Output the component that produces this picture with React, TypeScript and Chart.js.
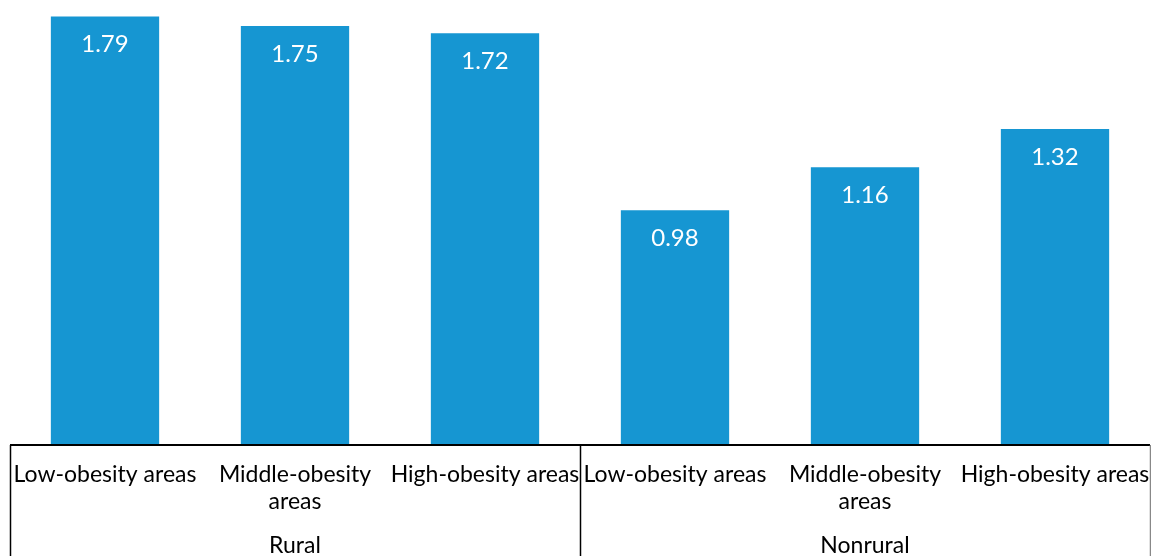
import React, { useEffect, useRef } from "react";
import { Chart, registerables } from "chart.js";

Chart.register(...registerables);

// Category labels (multi-line entries are arrays of lines)
const categories: (string | string[])[] = [
  "Low-obesity areas",
  ["Middle-obesity", "areas"],
  "High-obesity areas",
  "Low-obesity areas",
  ["Middle-obesity", "areas"],
  "High-obesity areas",
];

// Group labels and how many categories each spans
const groups = ["Rural", "Nonrural"];
const groupSizes = [3, 3];

const values = [1.79, 1.75, 1.72, 0.98, 1.16, 1.32];

const BAR_COLOR = "#1696d2";
const FONT = "Lato, 'Open Sans', sans-serif";

// Draws the value inside the top of each bar
const valueLabels = {
  id: "valueLabels",
  afterDatasetsDraw(chart: any) {
    const { ctx } = chart;
    const meta = chart.getDatasetMeta(0);
    ctx.save();
    ctx.fillStyle = "#ffffff";
    ctx.font = `24px ${FONT}`;
    ctx.textAlign = "center";
    ctx.textBaseline = "middle";
    meta.data.forEach((bar: any, i: number) => {
      ctx.fillText(values[i].toFixed(2), bar.x, bar.y + 28);
    });
    ctx.restore();
  },
};

// Draws the boxed category axis with group labels underneath
const groupAxis = {
  id: "groupAxis",
  afterDraw(chart: any) {
    const { ctx, chartArea } = chart;
    const bottom = chart.height;
    const step = (chartArea.right - chartArea.left) / categories.length;
    ctx.save();
    ctx.strokeStyle = "#000000";
    ctx.lineWidth = 2;
    ctx.beginPath();
    ctx.moveTo(chartArea.left, chartArea.bottom);
    ctx.lineTo(chartArea.right, chartArea.bottom);
    ctx.stroke();

    ctx.lineWidth = 1.5;
    let start = 0;
    const edges: number[] = [chartArea.left];
    groupSizes.forEach((n) => {
      start += n;
      edges.push(chartArea.left + start * step);
    });
    edges.forEach((ex, i) => {
      ctx.strokeStyle = i === edges.length - 1 ? "#888888" : "#000000";
      ctx.beginPath();
      ctx.moveTo(Math.round(ex) + 0.5, chartArea.bottom);
      ctx.lineTo(Math.round(ex) + 0.5, bottom);
      ctx.stroke();
    });

    ctx.fillStyle = "#000000";
    ctx.font = `23px ${FONT}`;
    ctx.textAlign = "center";
    ctx.textBaseline = "middle";
    groups.forEach((g, i) => {
      const cx = (edges[i] + edges[i + 1]) / 2;
      ctx.fillText(g, cx, 546);
    });
    ctx.restore();
  },
};

export default function App() {
  const canvasRef = useRef<HTMLCanvasElement | null>(null);

  useEffect(() => {
    if (!canvasRef.current) return;
    const chart = new Chart(canvasRef.current, {
      type: "bar",
      data: {
        labels: categories,
        datasets: [
          {
            data: values,
            backgroundColor: BAR_COLOR,
            barPercentage: 0.57,
            categoryPercentage: 1,
          },
        ],
      },
      options: {
        animation: false,
        responsive: false,
        maintainAspectRatio: false,
        layout: { padding: { left: 10, right: 1, top: 14, bottom: 0 } },
        plugins: {
          legend: { display: false },
          tooltip: { enabled: false },
        },
        scales: {
          x: {
            grid: { display: false },
            border: { display: false },
            ticks: {
              color: "#000000",
              font: { family: FONT, size: 23, lineHeight: 1.18 },
              padding: 8,
              maxRotation: 0,
              autoSkip: false,
            },
            afterFit: (scale: any) => {
              scale.height = 111;
              scale.paddingLeft = 0;
              scale.paddingRight = 0;
            },
          },
          y: {
            display: false,
            min: 0,
            max: 1.8,
          },
        },
      },
      plugins: [valueLabels, groupAxis],
    });
    return () => chart.destroy();
  }, []);

  return (
    <div style={{ position: "fixed", left: 0, top: 0, width: 1151, height: 556, background: "#ffffff" }}>
      <canvas ref={canvasRef} width={1151} height={556} />
    </div>
  );
}
